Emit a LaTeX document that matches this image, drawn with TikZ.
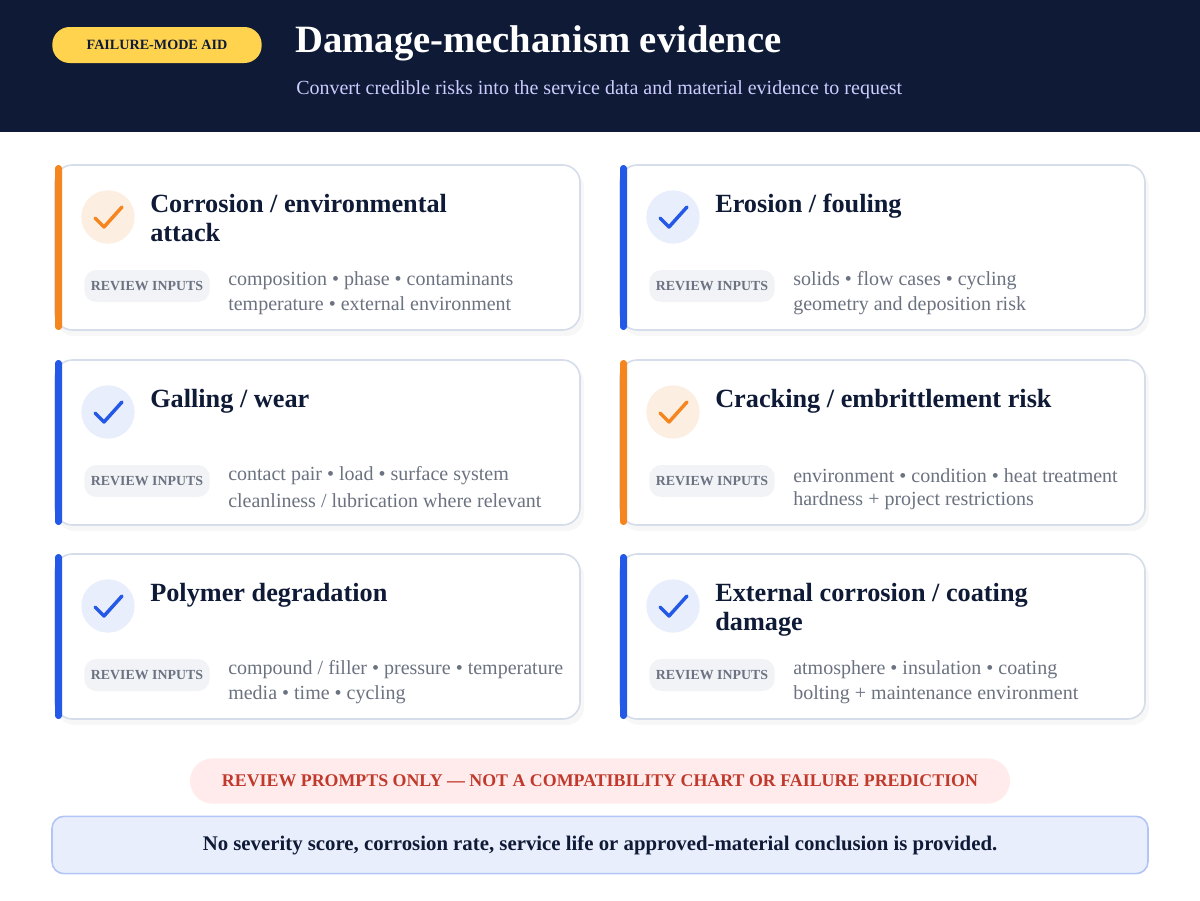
\documentclass[tikz,border=0pt]{standalone}
\usepackage{fontspec}
\setmainfont{Liberation Serif}
\usetikzlibrary{calc}
\definecolor{navy}{HTML}{0E1A36}
\definecolor{accorange}{HTML}{F5861F}
\definecolor{accblue}{HTML}{2458E6}
\definecolor{softorange}{HTML}{FDEEE2}
\definecolor{softblue}{HTML}{E8EEFB}
\definecolor{cardline}{HTML}{D5DCEA}
\definecolor{bodygrey}{HTML}{6B7280}
\definecolor{tagfill}{HTML}{F1F3F7}
\definecolor{warnred}{HTML}{C0392B}
\definecolor{amber}{HTML}{FFD34D}
\begin{document}
\begin{tikzpicture}
[x=0.75pt,y=-0.75pt,
  cardbox/.style={draw=cardline,line width=1.2pt,fill=white,rounded corners=13pt},
  cardtitle/.style={anchor=north west,align=left,font=\fontsize{19.7}{22}\selectfont\bfseries,text=navy,inner sep=0pt},
  cardbody/.style={anchor=west,align=left,font=\fontsize{15}{18.75}\selectfont,text=bodygrey,inner sep=0pt},
  tagpill/.style={fill=tagfill,rounded corners=9pt,minimum width=94pt,minimum height=24pt,inner sep=0pt,font=\fontsize{10.4}{12}\selectfont\bfseries,text=bodygrey},
  checkmark/.style={line width=2.6pt,line cap=round,line join=round}]
\useasboundingbox (0,0) rectangle (1200,900);
%% header
\fill[navy] (0,0) rectangle (1200,132);
\node (aid) [fill=amber,rounded corners=13pt,minimum width=157pt,minimum height=27pt,inner sep=0pt,
  font=\fontsize{10.6}{12}\selectfont\bfseries,text=navy] at (157,45) {FAILURE-MODE AID};
\node (title) [anchor=west,inner sep=0pt,text=white,font=\fontsize{29}{34}\selectfont\bfseries] at (295,43) {Damage-mechanism evidence};
\node (subtitle) [anchor=west,inner sep=0pt,text=white!80!blue,font=\fontsize{15}{18}\selectfont] at (296,90) {Convert credible risks into the service data and material evidence to request};
%% cards
\foreach \name/\x/\y/\acc/\soft/\ttl/\lineA/\lineB in {
  corr/55/165/accorange/softorange/{Corrosion / environmental\\attack}/{composition \textbullet\ phase \textbullet\ contaminants}/{temperature \textbullet\ external environment},
  eros/620/165/accblue/softblue/{Erosion / fouling}/{solids \textbullet\ flow cases \textbullet\ cycling}/{geometry and deposition risk},
  gall/55/360/accblue/softblue/{Galling / wear}/{contact pair \textbullet\ load \textbullet\ surface system}/{cleanliness / lubrication where relevant},
  crack/620/360/accorange/softorange/{Cracking / embrittlement risk}/{environment \textbullet\ condition \textbullet\ heat treatment}/{hardness + project restrictions},
  poly/55/554/accblue/softblue/{Polymer degradation}/{compound / filler \textbullet\ pressure \textbullet\ temperature}/{media \textbullet\ time \textbullet\ cycling},
  ext/620/554/accblue/softblue/{External corrosion / coating\\damage}/{atmosphere \textbullet\ insulation \textbullet\ coating}/{bolting + maintenance environment}}
{
  \fill[black!3] (\x+2,\y+5) [rounded corners=13pt] rectangle ++(527,166);
  \draw[cardbox] (\x,\y) rectangle ++(525,165);
  \fill[\acc,rounded corners=2.5pt] (\x,\y) rectangle ++(7,165);
  \node (\name-icon) [circle,fill=\soft,minimum size=40pt,inner sep=0pt] at (\x+53,\y+52) {};
  \draw[checkmark,\acc] ($(\name-icon)+(-13,1)$) -- ($(\name-icon)+(-4,10)$) -- ($(\name-icon)+(14,-10)$);
  \node (\name-title) [cardtitle] at (\x+95,\y+29) {\ttl};
  \node (\name-tag) [tagpill] at (\x+92,\y+121) {REVIEW INPUTS};
  \node (\name-a) [cardbody] at (\x+173,\y+116) {\lineA};
  \node (\name-b) [cardbody] at (\x+173,\y+141) {\lineB};
}
%% footer
\node (warn) [fill=red!8,rounded corners=17pt,minimum width=615pt,minimum height=34pt,inner sep=0pt,
  font=\fontsize{13.4}{15}\selectfont\bfseries,text=warnred] at (600,781) {REVIEW PROMPTS ONLY --- NOT A COMPATIBILITY CHART OR FAILURE PREDICTION};
\node (note) [draw=accblue!35,line width=1.2pt,fill=softblue,rounded corners=9pt,minimum width=822pt,minimum height=43pt,inner sep=0pt,
  font=\fontsize{15.6}{18}\selectfont\bfseries,text=navy] at (600,845) {No severity score, corrosion rate, service life or approved-material conclusion is provided.};
\end{tikzpicture}
\end{document}
